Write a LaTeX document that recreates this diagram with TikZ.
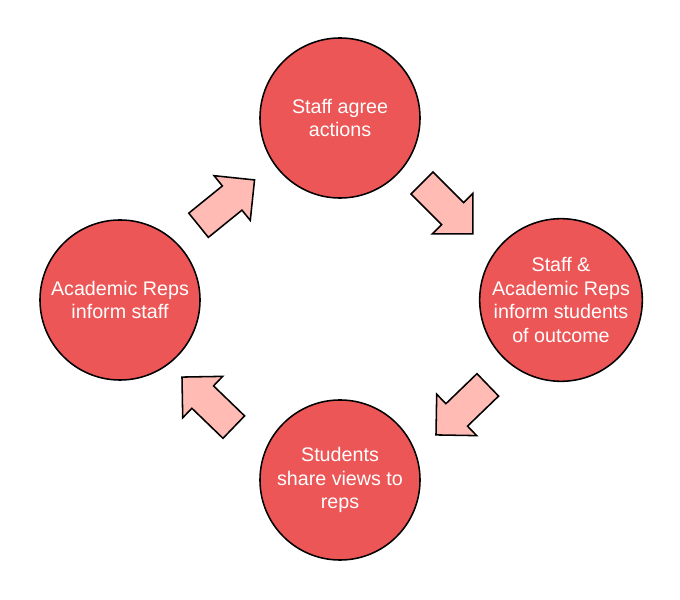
\documentclass[tikz,border=0pt]{standalone}
\usepackage{fontspec}
\setmainfont{Liberation Sans}
\usetikzlibrary{shapes.arrows,calc}

\definecolor{stagered}{RGB}{236,86,86}
\definecolor{flowpink}{RGB}{255,187,180}

\begin{document}
\begin{tikzpicture}[x=0.025cm, y=0.025cm,
    every node/.style={font=\fontsize{14}{17}\selectfont},
    stage/.style={circle, draw=black, line width=1.1pt, fill=stagered,
      minimum size=4cm, inner sep=0pt, align=center, text=white},
    flow/.style={single arrow, draw=black, line width=1.1pt, fill=flowpink,
      inner xsep=0pt, inner ysep=0.37cm, minimum height=1.8cm,
      single arrow head extend=0.33cm}]
  \useasboundingbox (0,0) rectangle (680,600);
  % the four stages of the loop
  \node[stage] (agree) at (340,482) {Staff agree\\actions};
  \node[stage] (inform) at (561,300) {Staff \&\\Academic Reps\\inform students\\of outcome};
  \node[stage] (share) at (340,120) {Students\\share views to\\reps};
  \node[stage] (reps) at (120,300) {Academic Reps\\inform staff};
  % block arrows between them
  \node[flow, rotate=39] (f1) at ($(reps)!0.5!(agree)+(-9.5,1.5)$) {};
  \node[flow, rotate=-45] (f2) at ($(agree)!0.5!(inform)+(-8.5,6)$) {};
  \node[flow, rotate=-136] (f3) at ($(inform)!0.5!(share)+(17,-14.5)$) {};
  \node[flow, rotate=136] (f4) at ($(share)!0.5!(reps)+(-16.5,-17.5)$) {};
\end{tikzpicture}
\end{document}
